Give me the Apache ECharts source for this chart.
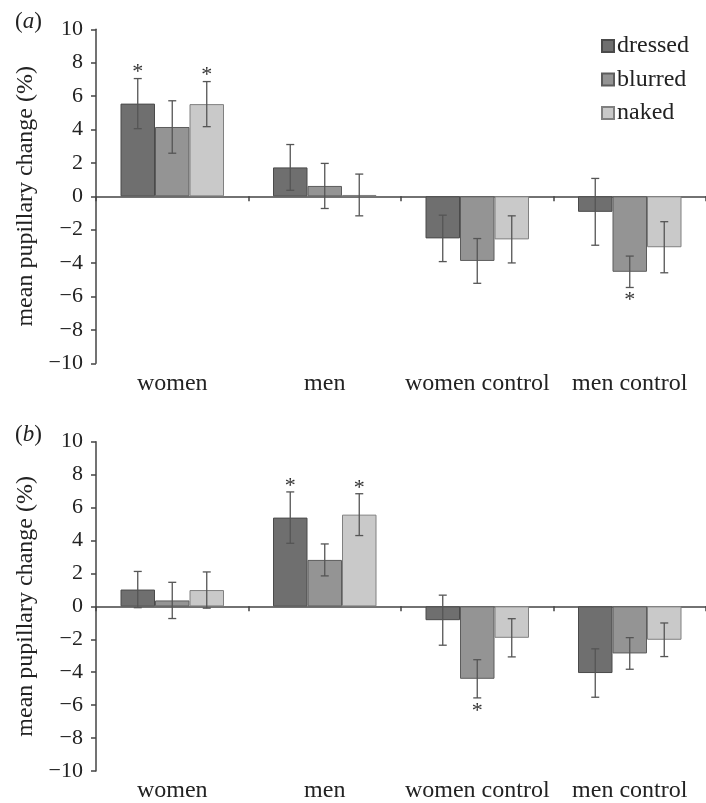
<!DOCTYPE html>
<html>
<head>
<meta charset="utf-8">
<script src="https://cdn.jsdelivr.net/npm/echarts@6/dist/echarts.min.js"></script>
<style>html,body{margin:0;padding:0;background:#fff}#c{width:706px;height:803px}</style>
</head>
<body>
<div id="c"></div>
<script>
const categories = ['women', 'men', 'women control', 'men control'];
const seriesNames = ['dressed', 'blurred', 'naked'];
const yTicks = [-10, -8, -6, -4, -2, 0, 2, 4, 6, 8, 10];

// panel (a)
const aDressed = [5.55, 1.73, -2.52, -0.93];
const aDressedErr = [1.5, 1.37, 1.39, 2.0];
const aBlurred = [4.15, 0.62, -3.87, -4.52];
const aBlurredErr = [1.57, 1.35, 1.34, 0.94];
const aNaked = [5.52, 0.08, -2.58, -3.05];
const aNakedErr = [1.35, 1.25, 1.41, 1.53];
const aDressedSig = [1, 0, 0, 0];
const aBlurredSig = [0, 0, 0, 1];
const aNakedSig = [1, 0, 0, 0];

// panel (b)
const bDressed = [1.02, 5.39, -0.84, -4.05];
const bDressedErr = [1.1, 1.56, 1.52, 1.47];
const bBlurred = [0.36, 2.82, -4.4, -2.86];
const bBlurredErr = [1.1, 0.97, 1.16, 0.96];
const bNaked = [0.99, 5.57, -1.91, -2.03];
const bNakedErr = [1.1, 1.27, 1.16, 1.02];
const bDressedSig = [0, 1, 0, 0];
const bBlurredSig = [0, 0, 1, 0];
const bNakedSig = [0, 1, 0, 0];

const FONT = '"Liberation Serif", "DejaVu Serif", serif';
const TXT = '#222';
const AX = '#444';
const fills = ['#6f6f6f', '#949494', '#c9c9c9'];
const borders = ['#4a4a4a', '#5c5c5c', '#808080'];
const BAR_W = 34.5;

const chart = echarts.init(document.getElementById('c'), null, {renderer: 'canvas'});

function gridAxes(gi) {
  return {
    xZero: {
      type: 'category', gridIndex: gi, data: categories,
      axisLine: {onZero: true, lineStyle: {color: AX, width: 1.5}},
      axisTick: {show: true, length: 5, lineStyle: {color: AX, width: 1.5}},
      axisLabel: {show: false}, splitLine: {show: false}
    },
    xBottom: {
      type: 'category', gridIndex: gi, data: categories, position: 'bottom',
      axisLine: {show: false, onZero: false}, axisTick: {show: false},
      axisLabel: {show: true, interval: 0, hideOverlap: false, margin: 8, fontFamily: FONT, fontSize: 24, color: TXT},
      splitLine: {show: false}
    },
    y: {
      type: 'value', gridIndex: gi, min: -10, max: 10, interval: 2,
      name: 'mean pupillary change (%)', nameLocation: 'middle', nameRotate: 90, nameGap: 52,
      nameTextStyle: {fontFamily: FONT, fontSize: 24, color: TXT},
      axisLine: {show: true, lineStyle: {color: AX, width: 1.5}},
      axisTick: {show: true, length: 5, lineStyle: {color: AX, width: 1.5}},
      axisLabel: {margin: 13, fontFamily: FONT, fontSize: 22, color: TXT,
        formatter: v => (yTicks.indexOf(v) >= 0 ? String(v).replace('-', '\u2212') : '')},
      splitLine: {show: false}
    }
  };
}

const g0 = gridAxes(0), g1 = gridAxes(1);

function barSeries(gi, name, k, values) {
  return {
    type: 'bar', name: name, xAxisIndex: gi * 2, yAxisIndex: gi,
    data: values, barWidth: BAR_W, barGap: '0%',
    itemStyle: {color: fills[k], borderColor: borders[k], borderWidth: 1},
    emphasis: {disabled: true}, animation: false, z: 2
  };
}

function errSeries(gi, vals, errs, sigs) {
  const data = [];
  for (let k = 0; k < 3; k++) {
    for (let i = 0; i < categories.length; i++) {
      data.push([i, vals[k][i], errs[k][i], sigs[k][i], k]);
    }
  }
  return {
    type: 'custom', xAxisIndex: gi * 2, yAxisIndex: gi, data: data,
    encode: {x: 0, y: 1}, animation: false, silent: true, z: 5,
    renderItem: function (params, api) {
      const cat = api.value(0), v = api.value(1), e = api.value(2), sig = api.value(3), k = api.value(4);
      const c = api.coord([cat, v]);
      const x = c[0] + (k - 1) * BAR_W;
      const yT = api.coord([cat, v + e])[1];
      const yB = api.coord([cat, v - e])[1];
      const cw = 4;
      const st = {stroke: '#555', lineWidth: 1.3};
      const ch = [
        {type: 'line', shape: {x1: x, y1: yT, x2: x, y2: yB}, style: st},
        {type: 'line', shape: {x1: x - cw, y1: yT, x2: x + cw, y2: yT}, style: st},
        {type: 'line', shape: {x1: x - cw, y1: yB, x2: x + cw, y2: yB}, style: st}
      ];
      if (sig) {
        const ty = v >= 0 ? yT - 6 : yB + 13;
        ch.push({type: 'text', style: {text: '*', x: x, y: ty, align: 'center', verticalAlign: 'middle',
          font: '22px ' + FONT, fill: '#333'}});
      }
      return {type: 'group', children: ch};
    }
  };
}

const option = {
  backgroundColor: '#fff',
  animation: false,
  title: [
    {text: '({i|a})', left: 10, top: 5,
     textStyle: {fontFamily: FONT, fontSize: 23, fontWeight: 'normal', color: TXT,
       rich: {i: {fontFamily: FONT, fontSize: 23, fontStyle: 'italic', color: TXT}}}},
    {text: '({i|b})', left: 10, top: 418,
     textStyle: {fontFamily: FONT, fontSize: 23, fontWeight: 'normal', color: TXT,
       rich: {i: {fontFamily: FONT, fontSize: 23, fontStyle: 'italic', color: TXT}}}}
  ],
  legend: {
    data: seriesNames, orient: 'vertical', left: 596, top: 29,
    itemWidth: 12, itemHeight: 12, itemGap: 9.5, icon: 'rect',
    textStyle: {fontFamily: FONT, fontSize: 24, color: TXT, padding: [0, 0, 0, -2]},
    selectedMode: false
  },
  grid: [
    {left: 96, top: 29.3, width: 613, height: 334, containLabel: false},
    {left: 96, top: 441.7, width: 613, height: 335, containLabel: false}
  ],
  xAxis: [g0.xZero, g0.xBottom, g1.xZero, g1.xBottom],
  yAxis: [g0.y, g1.y],
  series: [
    barSeries(0, 'dressed', 0, aDressed),
    barSeries(0, 'blurred', 1, aBlurred),
    barSeries(0, 'naked', 2, aNaked),
    errSeries(0, [aDressed, aBlurred, aNaked], [aDressedErr, aBlurredErr, aNakedErr], [aDressedSig, aBlurredSig, aNakedSig]),
    barSeries(1, 'dressed', 0, bDressed),
    barSeries(1, 'blurred', 1, bBlurred),
    barSeries(1, 'naked', 2, bNaked),
    errSeries(1, [bDressed, bBlurred, bNaked], [bDressedErr, bBlurredErr, bNakedErr], [bDressedSig, bBlurredSig, bNakedSig])
  ]
};
chart.setOption(option);
</script>
</body>
</html>
